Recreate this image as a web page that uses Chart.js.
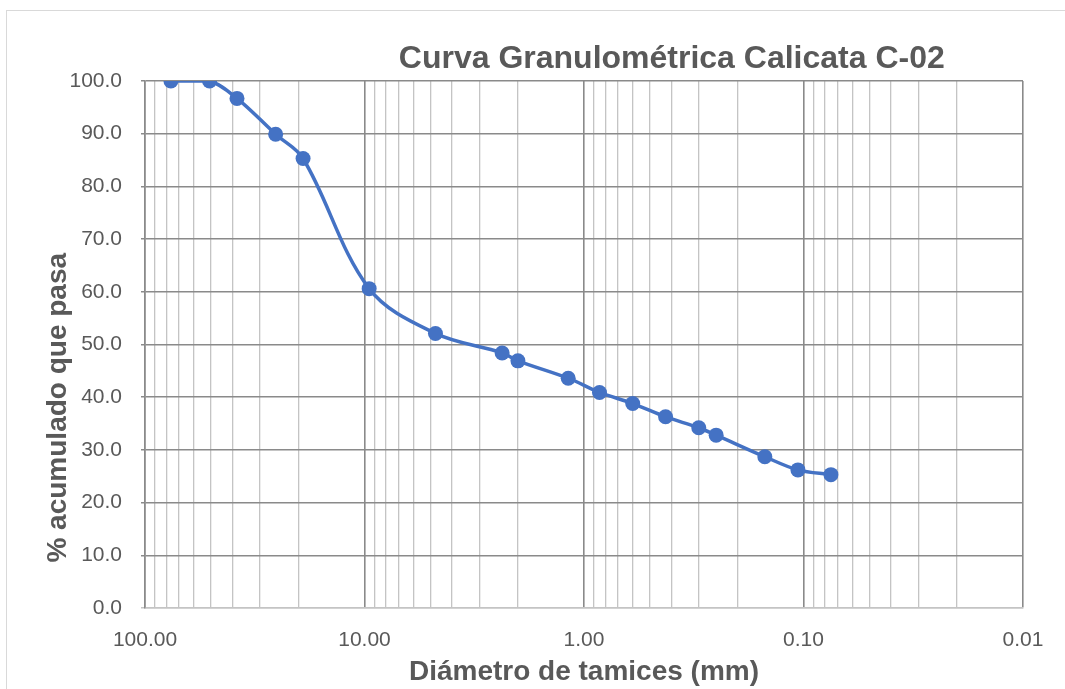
<!DOCTYPE html>
<html>
<head>
<meta charset="utf-8">
<script src="https://cdn.jsdelivr.net/npm/chart.js@4.4.1/dist/chart.umd.min.js"></script>
<style>
  body { margin: 0; background: #fff; }
  #wrap { width: 1065px; height: 689px; }
</style>
</head>
<body>
<div id="wrap"><canvas id="curva" width="1065" height="689"></canvas></div>
<script>
// tamices (mm) y % que pasa
const diametros = [76.2, 50.8, 38.1, 25.4, 19.05, 9.525, 4.75, 2.36, 2.0, 1.18, 0.85, 0.6, 0.425, 0.3, 0.25, 0.15, 0.106, 0.075];
const pasa = [100.0, 100.0, 96.7, 89.9, 85.3, 60.6, 52.1, 48.4, 46.9, 43.6, 40.9, 38.8, 36.3, 34.2, 32.8, 28.7, 26.2, 25.3];

// decadas del eje x y sus etiquetas
const decadas = [100, 10, 1, 0.1, 0.01];
const etiquetasX = ["100.00", "10.00", "1.00", "0.10", "0.01"];

const titulo = "Curva Granulométrica Calicata C-02";
const tituloY = "% acumulado que pasa";
const gris = "#595959";
const fuente = "'Liberation Sans', Arial, sans-serif";

// marco del grafico, titulo y titulo del eje y
const marco = {
  id: "marco",
  beforeDraw(chart) {
    const ctx = chart.ctx;
    ctx.save();
    ctx.fillStyle = "#fff";
    ctx.fillRect(0, 0, chart.width, chart.height);
    ctx.strokeStyle = "#d9d9d9";
    ctx.lineWidth = 1;
    ctx.strokeRect(6.5, 10.5, chart.width + 20, chart.height + 20);
    ctx.restore();
  },
  afterDraw(chart) {
    const ctx = chart.ctx, a = chart.chartArea;
    ctx.save();
    ctx.fillStyle = gris;
    ctx.textAlign = "center";
    ctx.textBaseline = "middle";
    ctx.font = "bold 32px " + fuente;
    ctx.fillText(titulo, a.left + (a.right - a.left) * 0.6, a.top - 22);
    // titulo vertical, algo por debajo del centro como en el original
    ctx.translate(58.5, a.top + (a.bottom - a.top) * 0.62);
    ctx.rotate(-Math.PI / 2);
    ctx.font = "bold 28px " + fuente;
    ctx.fillText(tituloY, 0, 0);
    ctx.restore();
  }
};

const puntos = diametros.map((d, i) => ({ x: d, y: pasa[i] }));

new Chart(document.getElementById("curva"), {
  type: "line",
  plugins: [marco],
  data: {
    datasets: [{
      data: puntos,
      borderColor: "#4472C4",
      backgroundColor: "#4472C4",
      borderWidth: 3.5,
      pointRadius: 7.5,
      pointBorderWidth: 0,
      tension: 0.35,
      fill: false
    }]
  },
  options: {
    responsive: false,
    animation: false,
    layout: { padding: { left: 30, right: 42, top: 81, bottom: 0 } },
    plugins: { legend: { display: false }, tooltip: { enabled: false } },
    scales: {
      x: {
        type: "logarithmic",
        reverse: true,
        min: 0.01,
        max: 100,
        afterFit: (s) => { s.height = 81; },
        afterBuildTicks: (s) => {
          const t = [];
          decadas.slice().reverse().forEach((d, i) => {
            if (i === decadas.length - 1) { t.push({ value: d }); return; }
            for (let k = 1; k <= 9; k++) t.push({ value: k === 1 ? d : Number((k * d).toPrecision(4)) });
          });
          s.ticks = t;
        },
        ticks: {
          autoSkip: false,
          maxRotation: 0,
          padding: 20,
          color: gris,
          font: { family: fuente, size: 21 },
          callback: (v) => {
            const i = decadas.indexOf(v);
            return i >= 0 ? etiquetasX[i] : "";
          }
        },
        grid: {
          drawTicks: false,
          color: (c) => decadas.includes(c.tick.value) ? "#8a8a8a" : "#c4c4c4",
          lineWidth: (c) => decadas.includes(c.tick.value) ? 1.6 : 1.3
        },
        border: { color: "#c4c4c4", width: 1.5 },
        title: {
          display: true,
          text: "Diámetro de tamices (mm)",
          color: gris,
          font: { family: fuente, size: 28, weight: "bold" },
          padding: { top: 0, bottom: 0 }
        }
      },
      y: {
        min: 0,
        max: 100,
        afterFit: (s) => { s.width = 115; },
        ticks: {
          stepSize: 10,
          padding: 19,
          color: gris,
          font: { family: fuente, size: 21 },
          callback: (v) => v.toFixed(1)
        },
        grid: {
          tickLength: 4,
          color: (c) => c.tick.value === 0 ? "#c4c4c4" : "#8a8a8a",
          lineWidth: 1.5
        },
        border: { color: "#8a8a8a", width: 1.5 },
        title: { display: false }
      }
    }
  }
});
</script>
</body>
</html>
